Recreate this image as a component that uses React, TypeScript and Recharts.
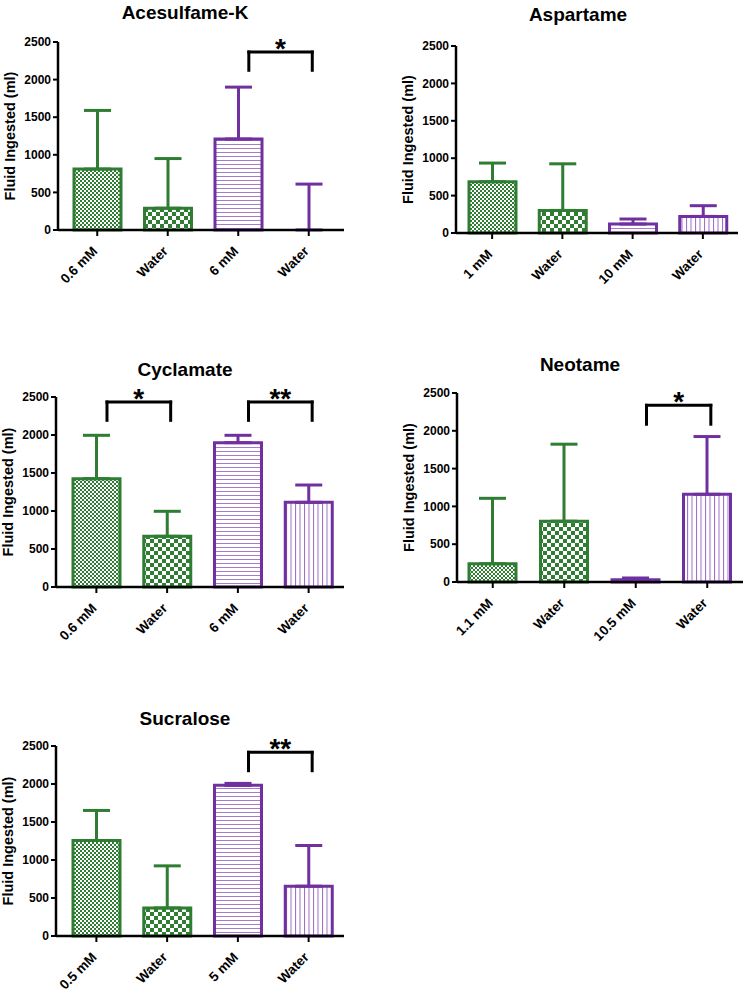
import React from 'react';
import { BarChart, Bar, XAxis, YAxis, Cell, ErrorBar, ReferenceLine } from 'recharts';

const GREEN = '#2e7d32';
const PURPLE = '#7030a0';

// Acesulfame-K (the last water group reads as ~0 ml)
const aceLabels = ['0.6 mM', 'Water', '6 mM', 'Water'];
const aceMeans = [810, 290, 1210, 0.5];
const aceErrors = [780, 660, 690, 610];

// Aspartame
const aspLabels = ['1 mM', 'Water', '10 mM', 'Water'];
const aspMeans = [685, 302, 120, 222];
const aspErrors = [250, 623, 67, 143];

// Cyclamate
const cycLabels = ['0.6 mM', 'Water', '6 mM', 'Water'];
const cycMeans = [1425, 667, 1899, 1114];
const cycErrors = [571, 329, 97, 228];

// Neotame
const neoLabels = ['1.1 mM', 'Water', '10.5 mM', 'Water'];
const neoMeans = [242, 804, 31, 1160];
const neoErrors = [865, 1019, 22, 764];

// Sucralose
const sucLabels = ['0.5 mM', 'Water', '5 mM', 'Water'];
const sucMeans = [1257, 369, 1982, 655];
const sucErrors = [395, 554, 26, 536];

const yTicks = [0, 500, 1000, 1500, 2000, 2500];

// significance brackets: group indexes, top / foot level (ml), mark
const aceBrackets = [{ from: 2, to: 3, top: 2367, foot: 2124, mark: '*' }];
const aspBrackets: any[] = [];
const cycBrackets = [
  { from: 0, to: 1, top: 2434, foot: 2193, mark: '*' },
  { from: 2, to: 3, top: 2434, foot: 2193, mark: '**' },
];
const neoBrackets = [{ from: 2, to: 3, top: 2337, foot: 2087, mark: '*' }];
const sucBrackets = [{ from: 2, to: 3, top: 2417, foot: 2175, mark: '**' }];

const patternIds = ['fineCheck', 'bigCheck', 'hLines', 'vLines'];
const strokes = [GREEN, GREEN, PURPLE, PURPLE];

const panels = [
  { title: 'Acesulfame-K', labels: aceLabels, means: aceMeans, errors: aceErrors, brackets: aceBrackets, axisX: 58, top: 42, bottom: 230, right: 344, pad: 4, titleX: 185, titleY: 13 },
  { title: 'Aspartame', labels: aspLabels, means: aspMeans, errors: aspErrors, brackets: aspBrackets, axisX: 456, top: 46, bottom: 233, right: 738, pad: 1, titleX: 578, titleY: 15 },
  { title: 'Cyclamate', labels: cycLabels, means: cycMeans, errors: cycErrors, brackets: cycBrackets, axisX: 56, top: 397, bottom: 587, right: 344, pad: 5, titleX: 185, titleY: 370 },
  { title: 'Neotame', labels: neoLabels, means: neoMeans, errors: neoErrors, brackets: neoBrackets, axisX: 457, top: 393, bottom: 582, right: 743, pad: 0, titleX: 580, titleY: 365 },
  { title: 'Sucralose', labels: sucLabels, means: sucMeans, errors: sucErrors, brackets: sucBrackets, axisX: 56, top: 746, bottom: 936, right: 344, pad: 5, titleX: 185, titleY: 719 },
];

const buildRows = (labels: string[], means: number[], errors: number[]) =>
  labels.map((name, i) => ({
    name,
    mean: means[i],
    errG: i < 2 ? [0, errors[i]] : null,
    errP: i >= 2 ? [0, errors[i]] : null,
  }));

// the hidden helper x axis runs 0..n-1 across the whole plot width,
// so a position in "group units" (band centre = i) is rescaled to it
const helperX = (g: number, n: number) => ((g + 0.5) * (n - 1)) / n;

const XTick = (props: any) => {
  const { x, y, payload } = props;
  const tx = x + 1;
  const ty = y + 14;
  return (
    <text x={tx} y={ty} transform={`rotate(-45 ${tx} ${ty})`} textAnchor="end" fontSize={13.5} fontWeight="bold" fill="#000">
      {payload.value}
    </text>
  );
};

const Patterns = () => (
  <svg width={0} height={0} style={{ position: 'absolute' }}>
    <defs>
      <pattern id="fineCheck" width={4} height={4} patternUnits="userSpaceOnUse">
        <rect width={4} height={4} fill="#fff" />
        <rect x={0} y={0} width={2} height={2} fill={GREEN} />
        <rect x={2} y={2} width={2} height={2} fill={GREEN} />
      </pattern>
      <pattern id="bigCheck" width={8} height={8} patternUnits="userSpaceOnUse">
        <rect width={8} height={8} fill="#fff" />
        <rect x={0} y={0} width={4} height={4} fill={GREEN} />
        <rect x={4} y={4} width={4} height={4} fill={GREEN} />
      </pattern>
      <pattern id="hLines" width={4} height={4} patternUnits="userSpaceOnUse">
        <rect width={4} height={4} fill="#fff" />
        <rect x={0} y={0} width={4} height={1} fill="#a57ccb" />
      </pattern>
      <pattern id="vLines" width={4.5} height={4} patternUnits="userSpaceOnUse">
        <rect width={4.5} height={4} fill="#fff" />
        <rect x={0} y={0} width={1} height={4} fill="#9b6cc4" />
      </pattern>
    </defs>
  </svg>
);

const Panel = ({ p }: { p: any }) => {
  const rows = buildRows(p.labels, p.means, p.errors);
  const n = rows.length;
  const left = p.axisX - 58;
  const topY = p.top - 42;
  const width = p.right - left + 5;
  const height = p.bottom - topY + 70;
  const lineProps = { xAxisId: 'pos', ifOverflow: 'visible' as const, stroke: '#000', strokeWidth: 3, strokeLinecap: 'square' as const };
  return (
    <div style={{ position: 'absolute', left, top: topY }}>
      <BarChart width={width} height={height} data={rows} margin={{ top: 42, right: 5, bottom: 0, left: 0 }}>
        <XAxis
          dataKey="name"
          interval={0}
          height={70}
          tick={(t: any) => <XTick {...t} />}
          tickSize={6}
          tickMargin={2}
          padding={{ left: p.pad, right: 0 }}
          axisLine={{ stroke: '#000', strokeWidth: 2.5 }}
          tickLine={{ stroke: '#000', strokeWidth: 2 }}
        />
        <XAxis xAxisId="pos" type="number" hide padding={{ left: p.pad, right: 0 }} />
        <YAxis
          domain={[0, 2500]}
          ticks={yTicks}
          interval={0}
          width={58}
          tickSize={5}
          tickMargin={2}
          tick={{ fontSize: 12, fontWeight: 'bold', fill: '#000' }}
          axisLine={{ stroke: '#000', strokeWidth: 2.5 }}
          tickLine={{ stroke: '#000', strokeWidth: 2 }}
          label={{ value: 'Fluid Ingested (ml)', angle: -90, position: 'insideLeft', offset: 10, fontSize: 14.5, fontWeight: 'bold', fill: '#000', style: { textAnchor: 'middle' } }}
        />
        <Bar dataKey="mean" barSize={47} strokeWidth={3} isAnimationActive={false}>
          {rows.map((r, i) => (
            <Cell key={i} fill={`url(#${patternIds[i]})`} stroke={r.mean < 1 ? 'none' : strokes[i]} />
          ))}
          <ErrorBar dataKey="errG" direction="y" width={13.5} stroke={GREEN} strokeWidth={3} />
          <ErrorBar dataKey="errP" direction="y" width={13.5} stroke={PURPLE} strokeWidth={3} />
        </Bar>
        {p.brackets.map((b: any, i: number) => {
          const x1 = helperX(b.from + 0.15, n);
          const x2 = helperX(b.to + 0.05, n);
          return [
            <ReferenceLine
              key={`h${i}`}
              {...lineProps}
              segment={[{ x: x1, y: b.top }, { x: x2, y: b.top }]}
              label={{ value: b.mark, position: 'top', offset: -6, fontSize: 28, fontWeight: 'bold', fill: '#000' }}
            />,
            <ReferenceLine key={`l${i}`} {...lineProps} segment={[{ x: x1, y: b.top }, { x: x1, y: b.foot }]} />,
            <ReferenceLine key={`r${i}`} {...lineProps} segment={[{ x: x2, y: b.top }, { x: x2, y: b.foot }]} />,
          ];
        })}
      </BarChart>
      <div
        style={{
          position: 'absolute',
          left: p.titleX - left - 100,
          top: p.titleY - topY - 11,
          width: 200,
          textAlign: 'center',
          fontSize: 19,
          lineHeight: '22px',
          fontWeight: 'bold',
        }}
      >
        {p.title}
      </div>
    </div>
  );
};

export default function App() {
  return (
    <div style={{ position: 'absolute', left: 0, top: 0, width: 747, height: 992, background: '#fff', fontFamily: '"Liberation Sans", Arial, sans-serif' }}>
      <Patterns />
      {panels.map((p) => (
        <Panel key={p.title} p={p} />
      ))}
    </div>
  );
}
